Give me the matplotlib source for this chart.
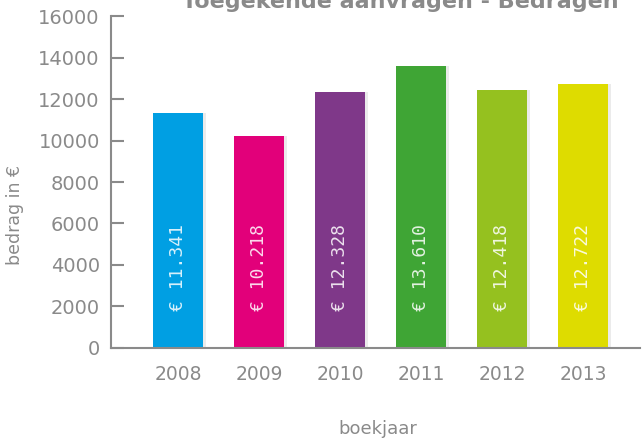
import matplotlib
matplotlib.use("Agg")
import matplotlib.pyplot as plt

years = ["2008", "2009", "2010", "2011", "2012", "2013"]
amounts = [11341, 10218, 12328, 13610, 12418, 12722]
labels = ["€ 11.341", "€ 10.218", "€ 12.328", "€ 13.610", "€ 12.418", "€ 12.722"]
colors = ["#009FE3", "#E2007A", "#7F3889", "#3FA535", "#95C11F", "#DEDC00"]
yticks = [0, 2000, 4000, 6000, 8000, 10000, 12000, 14000, 16000]

grey = "#8a8a8a"


def main():
    fig = plt.figure(figsize=(6.43, 4.41), dpi=100)
    ax = fig.add_axes([0.1726, 0.2109, 0.8227, 0.7528])

    x = list(range(len(years)))
    # soft shadow right of each bar
    ax.bar([i + 0.035 for i in x], amounts, width=0.62, color="#000000",
           alpha=0.08, zorder=1)
    ax.bar(x, amounts, width=0.62, color=colors, zorder=2)

    for i, lab in enumerate(labels):
        ax.text(i, 1800, lab, rotation=90, ha="center", va="bottom",
                color="white", fontsize=13, family="DejaVu Sans Mono",
                alpha=0.85, zorder=3)

    ax.set_xlim(-0.83, 5.7)
    ax.set_ylim(0, 16000)
    ax.set_xticks(x)
    ax.set_xticklabels(years)
    ax.set_yticks(yticks)

    for side in ["top", "right"]:
        ax.spines[side].set_visible(False)
    for side in ["left", "bottom"]:
        ax.spines[side].set_color(grey)
        ax.spines[side].set_linewidth(1.5)

    ax.tick_params(axis="y", direction="in", length=9, width=1.5,
                   color=grey, labelcolor=grey, labelsize=14, pad=8)
    ax.tick_params(axis="x", length=0, labelcolor=grey, labelsize=13.5,
                   pad=12)

    ax.set_ylabel("bedrag in €", color=grey, fontsize=12.5)
    ax.yaxis.set_label_coords(-0.165, 0.4)
    fig.text(0.587, 0.006, "boekjaar", color=grey, fontsize=13, ha="center",
             va="bottom")
    fig.text(0.622, 0.982, "Toegekende aanvragen - Bedragen", color=grey,
             fontsize=16, fontweight="bold", ha="center", va="baseline")

    plt.savefig("out.png", dpi=100)
    plt.close()


if __name__ == "__main__":
    main()
